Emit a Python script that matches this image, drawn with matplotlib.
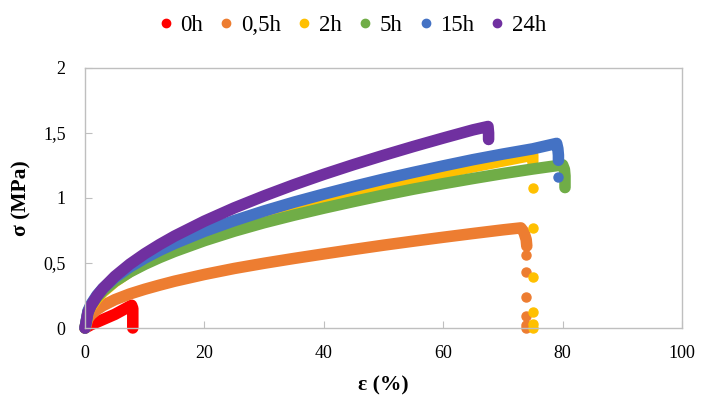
import matplotlib
matplotlib.use('Agg')
import matplotlib.pyplot as plt
from matplotlib.lines import Line2D
from matplotlib.ticker import FuncFormatter

plt.rcParams['font.family'] = ['Liberation Serif', 'DejaVu Serif']

# ── data (strain %, stress MPa) ──
labels = ['0h', '0,5h', '2h', '5h', '15h', '24h']
colors = ['#FF0000', '#ED7D31', '#FFC000', '#70AD47', '#4472C4', '#7030A0']

x_0h = [0, 1, 2, 3, 4, 5, 6, 7, 7.8, 8.0, 8.0, 8.0, 8.0]
y_0h = [0, 0.025, 0.045, 0.065, 0.085, 0.105, 0.13, 0.155, 0.175, 0.15, 0.10, 0.05, 0.0]

x_05h = [0, 0.5, 1, 2, 3, 5, 7.5, 10, 12.5, 15, 20, 25, 30, 35, 40, 45, 50, 55, 60, 65,
         70, 73, 73.5, 73.9, 74.0]
y_05h = [0, 0.074, 0.103, 0.142, 0.172, 0.218, 0.262, 0.298, 0.330, 0.360, 0.412, 0.458,
         0.498, 0.535, 0.570, 0.604, 0.637, 0.668, 0.698, 0.727, 0.755, 0.770, 0.74, 0.68, 0.63]
tx_05h = [73.9, 73.9, 73.9, 73.8, 73.8, 73.8]
ty_05h = [0.56, 0.43, 0.24, 0.09, 0.02, 0.0]

x_2h = [0, 0.5, 1, 2, 3, 5, 7.5, 10, 12.5, 15, 20, 25, 30, 35, 40, 45, 50, 55, 60, 65,
        70, 75, 75.0]
y_2h = [0, 0.116, 0.163, 0.228, 0.278, 0.356, 0.434, 0.499, 0.556, 0.608, 0.699, 0.779,
        0.851, 0.918, 0.979, 1.037, 1.091, 1.142, 1.192, 1.240, 1.285, 1.330, 1.28]
tx_2h = [75.1, 75.1, 75.1, 75.1, 75.1, 75.1]
ty_2h = [1.08, 0.77, 0.39, 0.12, 0.03, 0.0]

x_5h = [0, 0.5, 1, 2, 3, 5, 7.5, 10, 12.5, 15, 20, 25, 30, 35, 40, 45, 50, 55, 60, 65,
        70, 75, 80, 80.3, 80.4, 80.4, 80.4]
y_5h = [0, 0.127, 0.174, 0.238, 0.285, 0.359, 0.431, 0.490, 0.542, 0.589, 0.672, 0.745,
        0.810, 0.868, 0.922, 0.973, 1.022, 1.068, 1.110, 1.150, 1.188, 1.223, 1.255, 1.22,
        1.17, 1.12, 1.08]

x_15h = [0, 0.5, 1, 2, 3, 5, 7.5, 10, 12.5, 15, 20, 25, 30, 35, 40, 45, 50, 55, 60, 65,
         70, 75, 79, 79.2, 79.3, 79.3]
y_15h = [0, 0.131, 0.182, 0.252, 0.305, 0.388, 0.469, 0.537, 0.597, 0.650, 0.744, 0.826,
         0.900, 0.968, 1.030, 1.089, 1.145, 1.197, 1.247, 1.295, 1.338, 1.378, 1.42, 1.38,
         1.33, 1.29]
tx_15h = [79.2]
ty_15h = [1.16]

x_24h = [0, 0.5, 1, 2, 3, 5, 7.5, 10, 12.5, 15, 20, 25, 30, 35, 40, 45, 50, 55, 60, 65,
         67.5, 67.6, 67.6]
y_24h = [0, 0.119, 0.171, 0.246, 0.304, 0.397, 0.491, 0.571, 0.642, 0.707, 0.822, 0.924,
         1.016, 1.102, 1.182, 1.257, 1.328, 1.396, 1.461, 1.524, 1.55, 1.50, 1.45]

curves = [(x_0h, y_0h, [], []),
          (x_05h, y_05h, tx_05h, ty_05h),
          (x_2h, y_2h, tx_2h, ty_2h),
          (x_5h, y_5h, [], []),
          (x_15h, y_15h, tx_15h, ty_15h),
          (x_24h, y_24h, [], [])]

fig = plt.figure(figsize=(7.01, 4.03), dpi=100)
ax = fig.add_axes([0.1213, 0.1861, 0.8516, 0.6452])

for (cx, cy, tx, ty), c in zip(curves, colors):
    ax.plot(cx, cy, color=c, lw=8.3, solid_capstyle='round', solid_joinstyle='round',
            clip_on=False)
    if tx:
        ax.plot(tx, ty, 'o', color=c, ms=6.5, mec=c, clip_on=False)

ax.set_xlim(0, 100)
ax.set_ylim(0, 2)
ax.set_xticks([0, 20, 40, 60, 80, 100])
ax.set_yticks([0, 0.5, 1, 1.5, 2])
ax.yaxis.set_major_formatter(FuncFormatter(lambda v, p: f"{v:g}".replace('.', ',')))

for s in ax.spines.values():
    s.set_color('#BFBFBF')
    s.set_linewidth(1)
ax.tick_params(direction='in', length=5, color='#BFBFBF', labelsize=13)
ax.tick_params(axis='x', pad=12)
ax.tick_params(axis='y', pad=14)

ax.set_xlabel('ε (%)', fontsize=15.5, fontweight='bold', labelpad=10)
ax.set_ylabel('σ (MPa)', fontsize=15.5, fontweight='bold', labelpad=8)

handles = [Line2D([], [], ls='', marker='o', color=c, ms=6) for c in colors]
fig.legend(handles, labels, loc='upper center', bbox_to_anchor=(0.5, 1.015), ncol=6,
           frameon=False, fontsize=16.5, handletextpad=0.15, columnspacing=0.5,
           handlelength=1.0)

plt.savefig('out.png', dpi=100)
